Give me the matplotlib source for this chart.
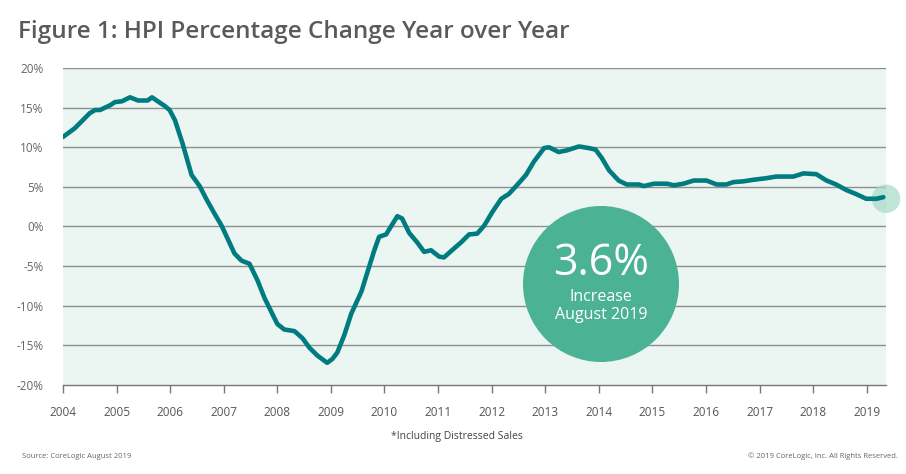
import matplotlib
matplotlib.use("Agg")
import matplotlib.pyplot as plt
from matplotlib.patches import Ellipse

plt.rcParams['font.family'] = ['Open Sans', 'DejaVu Sans']

# Decimal year and YoY HPI change (%)
years = [2004.00, 2004.22, 2004.50, 2004.60, 2004.69, 2004.88, 2004.97, 2005.10, 2005.25, 2005.40,
         2005.58, 2005.66, 2005.90, 2005.99, 2006.09, 2006.23, 2006.40, 2006.55, 2006.68, 2006.83,
         2006.96, 2007.07, 2007.20, 2007.33, 2007.48, 2007.63, 2007.76, 2007.89, 2008.00, 2008.13,
         2008.32, 2008.47, 2008.60, 2008.75, 2008.93, 2009.03, 2009.12, 2009.25, 2009.38, 2009.57,
         2009.68, 2009.81, 2009.90, 2010.03, 2010.13, 2010.24, 2010.33, 2010.46, 2010.61, 2010.74,
         2010.87, 2011.02, 2011.11, 2011.26, 2011.43, 2011.58, 2011.73, 2011.86, 2012.01, 2012.18,
         2012.32, 2012.47, 2012.64, 2012.79, 2012.98, 2013.07, 2013.25, 2013.40, 2013.63, 2013.81,
         2013.94, 2014.06, 2014.19, 2014.37, 2014.52, 2014.75, 2014.84, 2015.03, 2015.27, 2015.40,
         2015.58, 2015.77, 2016.01, 2016.20, 2016.38, 2016.51, 2016.70, 2016.89, 2017.13, 2017.31,
         2017.63, 2017.82, 2018.06, 2018.25, 2018.43, 2018.62, 2018.80, 2018.99, 2019.18, 2019.31]
hpi = [11.3, 12.4, 14.3, 14.7, 14.7, 15.3, 15.7, 15.8, 16.3, 15.9,
       15.9, 16.3, 15.2, 14.7, 13.4, 10.5, 6.5, 5.1, 3.4, 1.6,
       0.1, -1.5, -3.4, -4.3, -4.7, -6.8, -9.0, -10.8, -12.3, -13.0,
       -13.2, -14.1, -15.3, -16.3, -17.2, -16.7, -15.9, -13.7, -11.0, -8.2,
       -5.8, -3.0, -1.3, -1.0, 0.1, 1.3, 1.0, -0.8, -2.0, -3.2,
       -3.0, -3.8, -3.9, -3.0, -2.0, -1.0, -0.9, 0.1, 1.8, 3.5,
       4.1, 5.2, 6.5, 8.2, 9.9, 10.0, 9.4, 9.6, 10.1, 9.9,
       9.7, 8.6, 7.1, 5.8, 5.3, 5.3, 5.1, 5.4, 5.4, 5.2,
       5.4, 5.8, 5.8, 5.3, 5.3, 5.6, 5.7, 5.9, 6.1, 6.3,
       6.3, 6.7, 6.6, 5.8, 5.3, 4.6, 4.1, 3.5, 3.5, 3.7]

yticks = [-20, -15, -10, -5, 0, 5, 10, 15, 20]
xtick_years = list(range(2004, 2020))

title = "Figure 1: HPI Percentage Change Year over Year"
callout_value = "3.6%"
callout_text = "Increase\nAugust 2019"

W, H = 906, 474
fig = plt.figure(figsize=(W / 100, H / 100), dpi=100)
ax = fig.add_axes([63 / W, 1 - 385 / H, (886 - 63) / W, (385 - 68) / H])
ax.set_facecolor('#EBF5F2')

for v in yticks[1:]:
    ax.axhline(v, color='#8f8f8f', lw=1.0, zorder=1)

ax.plot(years, hpi, color='#007B7F', lw=3.3, solid_capstyle='round',
        solid_joinstyle='round', zorder=3)
ax.scatter([years[-1] + 0.05], [hpi[-1] - 0.2], s=420, color='#A5D9C8', alpha=0.7,
           edgecolors='none', zorder=2, clip_on=False)

ax.set_xlim(2004, 2019.36)
ax.set_ylim(-20, 20)
ax.set_yticks(yticks)
ax.set_yticklabels([f"{v}%" for v in yticks])
ax.set_xticks(xtick_years)
ax.set_xticklabels([str(y) for y in xtick_years])

for s in ['top', 'right', 'left']:
    ax.spines[s].set_visible(False)
ax.spines['bottom'].set_color('#777777')
ax.spines['bottom'].set_linewidth(1.0)
ax.tick_params(axis='y', length=0, pad=14, labelsize=8.5, labelcolor='#666666')
ax.tick_params(axis='x', length=6, width=1, color='#777777', pad=9,
               labelsize=8.5, labelcolor='#555555', direction='out')

# Callout circle
fig.patches.append(Ellipse((601 / W, 1 - 284 / H), 156 / W, 156 / H,
                           transform=fig.transFigure, facecolor='#4BB393',
                           edgecolor='none', zorder=5))
fig.text(601 / W, 1 - 264 / H, callout_value, color='white', fontsize=31,
         ha='center', va='center', zorder=6)
fig.text(601 / W, 1 - 306 / H, callout_text, color='white', fontsize=11.5,
         ha='center', va='center', linespacing=1.15, zorder=6)

fig.text(18 / W, 1 - 32 / H, title, fontsize=17.5, color='#5a5a5a',
         weight='semibold', ha='left', va='center')
fig.text(457 / W, 1 - 437 / H, "*Including Distressed Sales", fontsize=7.5,
         color='#444444', ha='center', va='center')
fig.text(22 / W, 1 - 456 / H, "Source: CoreLogic August 2019", fontsize=5.5,
         color='#666666', ha='left', va='center')
fig.text(898 / W, 1 - 456 / H, "\u00a9 2019 CoreLogic, Inc. All Rights Reserved.",
         fontsize=5.5, color='#666666', ha='right', va='center')

fig.savefig('out.png', dpi=100, facecolor='white')
